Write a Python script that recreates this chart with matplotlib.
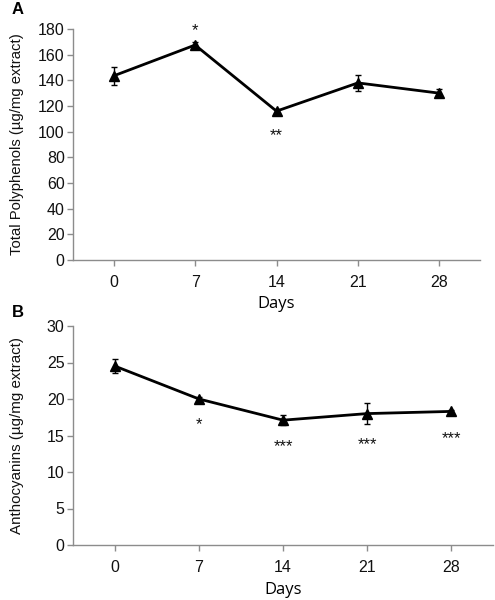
import matplotlib
matplotlib.use("Agg")
import matplotlib.pyplot as plt

days = ["0", "7", "14", "21", "28"]
polyphenols = [143.5, 167.5, 116.0, 138.0, 130.0]
polyphenols_err = [7.0, 2.0, 2.0, 6.5, 3.0]
poly_stars = ["", "*", "**", "", ""]
poly_star_y = [None, 179, 97, None, None]

anthocyanins = [24.5, 20.0, 17.1, 18.0, 18.3]
anthocyanins_err = [1.0, 0.3, 0.7, 1.45, 0.2]
antho_stars = ["", "*", "***", "***", "***"]
antho_star_y = [None, 16.5, 13.5, 13.7, 14.6]

plt.rcParams['font.family'] = ['Liberation Sans', 'DejaVu Sans']

fig = plt.figure(figsize=(4.95, 6.0), dpi=100)
axA = fig.add_axes([73/495, 1-260/600, 407/495, 231/600])
axB = fig.add_axes([73/495, 1-545/600, 420/495, 219/600])

def style(ax, ymax, ystep):
    x = list(range(len(days)))
    ax.set_xlim(-0.5, len(days)-0.5)
    ax.set_ylim(0, ymax)
    ax.set_yticks(range(0, ymax+1, ystep))
    ax.set_xticks(x)
    ax.set_xticklabels(days)
    for s in ['top', 'right']:
        ax.spines[s].set_visible(False)
    for s in ['left', 'bottom']:
        ax.spines[s].set_color('#8c8c8c')
        ax.spines[s].set_linewidth(1.0)
    ax.tick_params(axis='both', colors='#8c8c8c', labelcolor='#111111',
                   labelsize=11.5, length=4, width=1.0)
    ax.tick_params(axis='x', pad=7)
    ax.tick_params(axis='y', pad=2)
    return x

x = style(axA, 180, 20)
axA.errorbar(x, polyphenols, yerr=polyphenols_err, color='black', lw=2,
             marker='^', ms=6.5, elinewidth=1, capsize=2.5, capthick=1)
for xi, s, yv in zip(x, poly_stars, poly_star_y):
    if s:
        axA.text(xi, yv, s, ha='center', va='center', fontsize=12, color='#111111')
axA.set_xlabel("Days", fontsize=12, family=['Open Sans', 'DejaVu Sans'])
axA.xaxis.set_label_coords(0.5, (260-296)/231)
axA.set_ylabel("Total Polyphenols (µg/mg extract)", fontsize=10.7, color='#111111')
axA.yaxis.set_label_coords((24-73)/407, 0.5)

x = style(axB, 30, 5)
axB.errorbar(x, anthocyanins, yerr=anthocyanins_err, color='black', lw=2,
             marker='^', ms=6.5, elinewidth=1, capsize=2.5, capthick=1)
for xi, s, yv in zip(x, antho_stars, antho_star_y):
    if s:
        axB.text(xi, yv, s, ha='center', va='center', fontsize=12, color='#111111')
axB.set_xlabel("Days", fontsize=12, family=['Open Sans', 'DejaVu Sans'])
axB.xaxis.set_label_coords(0.5, (545-582)/219)
axB.set_ylabel("Anthocyanins (µg/mg extract)", fontsize=10.9, color='#111111')
axB.yaxis.set_label_coords((24-73)/420, 0.5)

fig.text(12/495, 1-10/600, "A", fontsize=12, fontweight='bold', ha='left', va='center')
fig.text(12/495, 1-313/600, "B", fontsize=12, fontweight='bold', ha='left', va='center')

fig.savefig("out.png", dpi=100)
